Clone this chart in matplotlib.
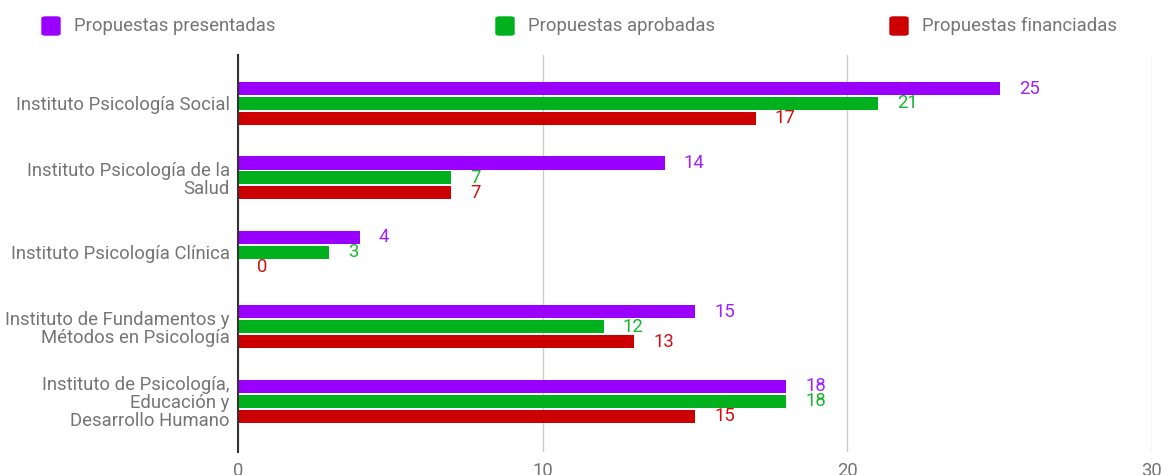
import numpy as np
import matplotlib
matplotlib.use("Agg")
import matplotlib.pyplot as plt
from matplotlib.patches import FancyBboxPatch

plt.rcParams["font.family"] = ["Roboto", "DejaVu Sans"]

# --- data ---
categories = [
    "Instituto Psicología Social",
    "Instituto Psicología de la\nSalud",
    "Instituto Psicología Clínica",
    "Instituto de Fundamentos y\nMétodos en Psicología",
    "Instituto de Psicología,\nEducación y\nDesarrollo Humano",
]
series_names = ["Propuestas presentadas", "Propuestas aprobadas", "Propuestas financiadas"]
presentadas = [25, 14, 4, 15, 18]
aprobadas = [21, 7, 3, 12, 18]
financiadas = [17, 7, 0, 13, 15]
x_ticks = [0, 10, 20, 30]

colors = ["#9900ff", "#00b01c", "#cc0000"]
label_colors = ["#a020ff", "#16b52c", "#d01010"]
grey = "#757575"
fs = 13.3

fig = plt.figure(figsize=(11.65, 4.75), dpi=100)
W, H = 1165, 475
ax = fig.add_axes([238 / W, 1 - 452 / H, (1152 - 238) / W, (452 - 55) / H])

y = np.arange(len(categories))
bar_h = 0.175
step = 0.2

for k, (vals, c, lc) in enumerate(zip([presentadas, aprobadas, financiadas], colors, label_colors)):
    yy = y + (k - 1) * step
    ax.barh(yy, vals, height=bar_h, color=c, zorder=3)
    for yi, v in zip(yy, vals):
        ax.annotate(str(v), (v, yi), xytext=(19, 0), textcoords="offset pixels",
                    ha="left", va="center", color=lc, fontsize=fs)

ax.set_xlim(0, 30)
ax.set_ylim(4.68, -0.65)
ax.set_xticks(x_ticks)
ax.set_xticklabels([str(t) for t in x_ticks])
ax.set_yticks(y)
ax.set_yticklabels(categories, linespacing=1.0)
ax.tick_params(axis="both", length=0, colors=grey, labelsize=fs)
ax.tick_params(axis="y", pad=6)
ax.tick_params(axis="x", pad=7)
ax.grid(axis="x", color="#cccccc", lw=1, zorder=0)
for s in ["top", "right", "bottom"]:
    ax.spines[s].set_visible(False)
ax.spines["left"].set_color("#333333")
ax.spines["left"].set_linewidth(1.5)
ax.spines["left"].set_zorder(4)

# --- legend across the top ---
legend_x = [42, 496, 890]
for lx, name, c in zip(legend_x, series_names, colors):
    fig.patches.append(FancyBboxPatch((lx / W, 1 - 35 / H), 18 / W, 18 / H,
                                      boxstyle="round,pad=0,rounding_size=0.003",
                                      transform=fig.transFigure, color=c))
    fig.text((lx + 32) / W, 1 - 26 / H, name, ha="left", va="center",
             color=grey, fontsize=fs)

fig.savefig("out.png", dpi=100)
